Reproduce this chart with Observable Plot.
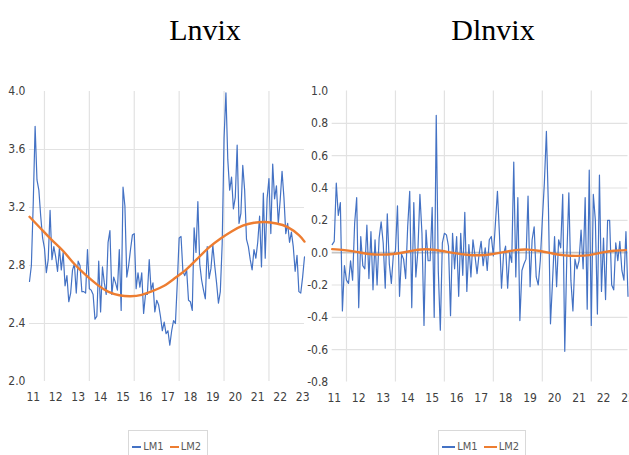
<!DOCTYPE html>
<html><head><meta charset="utf-8">
<script src="https://cdn.jsdelivr.net/npm/d3@7"></script>
<script src="https://cdn.jsdelivr.net/npm/@observablehq/plot@0.6"></script>
<style>
html,body{margin:0;padding:0;width:629px;height:455px;overflow:hidden;background:#fff;}
#wrap{position:relative;width:629px;height:455px;overflow:hidden;}
.title{position:absolute;top:15px;font-family:"Liberation Serif",serif;font-size:30px;line-height:30px;color:#000;transform:translateX(-50%);white-space:nowrap;}
.panel{position:absolute;top:0;}
.panel svg{max-width:none !important;}
.legend{position:absolute;top:430px;height:40px;border:1px solid #d9d9d9;box-sizing:border-box;display:flex;align-items:flex-start;padding-top:9px;padding-left:3px;font-family:"Liberation Sans Narrow","DejaVu Sans Condensed",sans-serif;color:#595959;}
.sw{display:inline-block;width:17px;height:2px;margin-top:6px;}
.lt{font-size:11px;line-height:14px;margin:0 6px 0 2px;}
</style></head>
<body><div id="wrap">
<div class="title" style="left:205px">Lnvix</div>
<div class="title" style="left:493px">Dlnvix</div>
<div class="panel" id="left" style="left:0px;width:314px"></div>
<div class="panel" id="right" style="left:290px;width:345px"></div>
<div class="legend" style="left:128px;width:80px"><span class="sw" style="background:#4472C4"></span><span class="lt">LM1</span><span class="sw" style="background:#ED7D31"></span><span class="lt">LM2</span></div>
<div class="legend" style="left:438px;width:88px"><span class="sw" style="background:#4472C4"></span><span class="lt">LM1</span><span class="sw" style="background:#ED7D31"></span><span class="lt">LM2</span></div>
</div>
<script>
// Year tick labels
const yearLabels = ["11","12","13","14","15","16","17","18","19","20","21","22","23"];
// Month index of each year label
const lnvixTickMonths = [2,14,26,38,50,62,74,86,98,110,122,134,146];
const dlnvixTickMonths = [1,13,25,37,49,61,73,85,97,109,121,133,145];
// Vertical gridline months
const lnvixGridMonths = [8,32,56,80,104,128];
const dlnvixGridMonths = [7,31,55,79,103,127];

// Lnvix LM1 (monthly)
const lnvixLM1 = [
2.69,2.80,3.23,3.76,3.39,3.32,3.14,2.99,2.92,2.75,
2.84,3.18,2.84,2.93,2.86,2.76,2.92,2.77,2.89,2.66,
2.73,2.55,2.61,2.77,2.81,2.61,2.83,2.80,2.62,2.62,
2.61,2.91,2.64,2.63,2.60,2.43,2.45,2.83,2.48,2.79,
2.68,2.60,2.96,3.04,2.60,2.72,2.68,2.63,2.91,2.49,
3.34,3.21,2.72,2.80,2.91,3.01,3.02,2.64,2.75,2.65,
2.75,2.47,2.60,2.60,2.84,2.63,2.68,2.48,2.56,2.53,
2.45,2.35,
2.41,2.33,2.35,2.25,2.35,2.42,2.40,2.68,2.99,3.00,
2.76,2.73,2.77,2.56,2.55,2.49,3.06,2.89,3.24,2.81,
2.70,2.63,2.57,2.93,2.71,2.78,2.94,2.80,2.68,2.54,
2.62,2.95,3.68,3.99,3.53,3.32,3.41,3.19,3.27,3.63,
3.09,3.16,3.49,3.32,2.98,2.93,2.84,2.77,2.91,2.85,
2.96,3.14,2.79,3.30,2.85,3.26,3.40,3.02,3.50,3.26,
3.35,3.09,3.25,3.45,3.27,3.02,3.09,2.96,3.03,2.93,
2.76,2.87,2.62,2.61,2.72,2.86];
// Lnvix LM2 (trend), read every 6 months
const lnvixLM2Months = [0,6,12,18,24,30,36,42,48,54,60,66,72,78,84,90,96,102,108,114,120,126,132,138,144,147];
const lnvixLM2 = [3.136,3.055,2.975,2.90,2.81,2.735,2.67,2.62,2.595,2.588,2.598,2.625,2.66,2.715,2.775,2.85,2.925,2.985,3.035,3.075,3.095,3.10,3.09,3.065,3.01,2.965];

// Dlnvix LM1 (monthly)
const dlnvixLM1 = [
0.05,0.07,0.43,0.23,0.31,-0.36,-0.08,-0.17,-0.19,-0.05,
-0.17,0.18,0.34,-0.34,0.10,-0.08,-0.10,0.17,-0.16,0.13,
-0.23,0.08,-0.20,0.09,0.19,0.06,-0.22,0.24,-0.07,-0.19,
-0.01,0.01,0.29,-0.27,-0.01,-0.04,-0.16,0.16,0.38,-0.34,
0.31,-0.15,0.01,0.36,0.12,-0.45,0.14,-0.05,-0.05,0.28,
-0.40,0.85,-0.11,-0.48,0.06,0.12,0.11,0.04,-0.39,0.12,
-0.10,0.10,-0.27,0.12,-0.14,0.25,-0.24,0.05,-0.15,0.08,
-0.02,-0.13,-0.01,0.07,-0.08,0.03,-0.11,0.08,0.10,-0.02,
0.18,0.38,0.11,-0.22,-0.01,0.04,-0.22,0.00,-0.06,0.56,
-0.15,0.34,-0.42,-0.11,-0.07,-0.04,0.35,-0.21,0.08,0.16,
-0.15,-0.20,-0.05,0.20,0.43,0.75,0.28,-0.44,-0.18,0.10,
-0.21,0.08,0.03,0.36,-0.61,-0.03,0.37,-0.17,-0.36,-0.04,
-0.10,-0.05,0.14,-0.10,0.34,-0.35,0.51,-0.45,0.36,0.20,
-0.38,0.48,-0.24,0.09,-0.29,0.20,0.20,-0.20,-0.23,0.06,
-0.05,0.07,-0.11,-0.17,0.13,-0.27];
// Dlnvix LM2 (trend), read every 6 months
const dlnvixLM2Months = [0,6,12,18,24,30,36,42,48,54,60,66,72,78,84,90,96,102,108,114,120,126,132,138,144];
const dlnvixLM2 = [0.022,0.016,0.005,-0.008,-0.012,-0.008,0.004,0.018,0.02,0.01,-0.003,-0.013,-0.016,-0.01,0.003,0.016,0.019,0.01,-0.005,-0.017,-0.02,-0.015,0.0,0.012,0.016];

const leftYTicks = [2.0,2.4,2.8,3.2,3.6,4.0];
const leftYGrid = [2.4,2.8,3.2,3.6];
const rightYTicks = [-0.8,-0.6,-0.4,-0.2,0.0,0.2,0.4,0.6,0.8,1.0];
const rightYGrid = [-0.6,-0.4,-0.2,0.2,0.4,0.6,0.8];

const BLUE = "#4472C4", ORANGE = "#ED7D31", GRID = "#e2e2e2";
const axisFont = '"Liberation Sans Narrow","DejaVu Sans Condensed",sans-serif';

function panel({lm1, lm2Months, lm2, tickMonths, gridMonths, yTicks, yGrid, yDomain, xMax, width, marginLeft, marginRight, marginTop, marginBottom, zeroLine}) {
  const labelMap = new Map(tickMonths.map((m, i) => [m, yearLabels[i]]));
  const lm1Data = lm1.map((v, i) => ({m: i, v}));
  const lm2Data = lm2.map((v, i) => ({m: lm2Months[i], v}));
  const marks = [
    Plot.ruleY(yGrid, {stroke: GRID, strokeWidth: 1.2}),
    Plot.ruleX(gridMonths, {stroke: GRID, strokeWidth: 1.2})
  ];
  if (zeroLine) marks.push(Plot.ruleY([0], {stroke: "#c4c4c4", strokeWidth: 1.6}));
  marks.push(
    Plot.line(lm1Data, {x: "m", y: "v", stroke: BLUE, strokeWidth: 1.2}),
    Plot.line(lm2Data, {x: "m", y: "v", stroke: ORANGE, strokeWidth: 2.4, curve: "natural"})
  );
  return Plot.plot({
    width, height: 420, marginLeft, marginRight, marginTop, marginBottom,
    style: {background: "transparent", fontFamily: axisFont, fontSize: "12px", color: "#404040", overflow: "visible", maxWidth: "none"},
    x: {domain: [0, xMax], ticks: tickMonths, tickFormat: d => labelMap.get(d), tickSize: 0, tickPadding: 11, label: null},
    y: {domain: yDomain, ticks: yTicks, tickFormat: d => d.toFixed(1), tickSize: 0, tickPadding: 4, label: null},
    marks
  });
}

document.getElementById("left").append(panel({
  lm1: lnvixLM1, lm2Months: lnvixLM2Months, lm2: lnvixLM2,
  tickMonths: lnvixTickMonths, gridMonths: lnvixGridMonths,
  yTicks: leftYTicks, yGrid: leftYGrid, yDomain: [2, 4], xMax: lnvixLM1.length - 1,
  width: 314, marginLeft: 29, marginRight: 10, marginTop: 91, marginBottom: 39, zeroLine: false
}));
document.getElementById("right").append(panel({
  lm1: dlnvixLM1, lm2Months: dlnvixLM2Months, lm2: dlnvixLM2,
  tickMonths: dlnvixTickMonths, gridMonths: dlnvixGridMonths,
  yTicks: rightYTicks, yGrid: rightYGrid, yDomain: [-0.8, 1.0], xMax: dlnvixLM1.length - 1,
  width: 345, marginLeft: 41.7, marginRight: 7.5, marginTop: 90.5, marginBottom: 38.5, zeroLine: true
}));
</script>
</body></html>
